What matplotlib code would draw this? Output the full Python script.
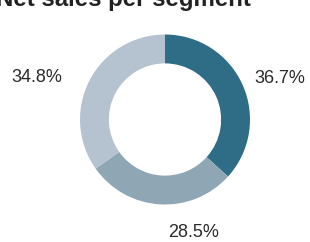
import matplotlib
matplotlib.use("Agg")
import matplotlib.pyplot as plt

plt.rcParams['font.family'] = ['Liberation Sans', 'DejaVu Sans']

title = "Net sales per segment"
segments = ["Segment A", "Segment B", "Segment C"]
shares = [36.7, 28.5, 34.8]
colors = ["#2e6d85", "#8fa6b5", "#b5c3d0"]

# label anchor positions (axes data units, radius = 1)
label_pos = [(1.353, 0.488), (0.341, -1.324), (-1.506, 0.50)]

W, H = 310, 242
fig = plt.figure(figsize=(W / 100, H / 100), dpi=100)
cx, cy, r = 165, 119.5, 85
ax = fig.add_axes([(cx - r) / W, 1 - (cy + r) / H, 2 * r / W, 2 * r / H])
ax.pie(shares, colors=colors, startangle=90, counterclock=False, radius=1,
       wedgeprops=dict(width=0.34, linewidth=0))
ax.set_xlim(-1, 1)
ax.set_ylim(-1, 1)
ax.set_aspect('equal')
ax.axis('off')

for v, (x, y) in zip(shares, label_pos):
    ax.text(x, y, f"{v:.1f}%", ha='center', va='center', fontsize=13,
            color='#2a2a2a', clip_on=False)

fig.text(251 / W, 1 - 6 / H, title, ha='right', va='baseline', fontsize=17.3,
         fontweight='bold', color='#222222')

fig.savefig("out.png", dpi=100)
